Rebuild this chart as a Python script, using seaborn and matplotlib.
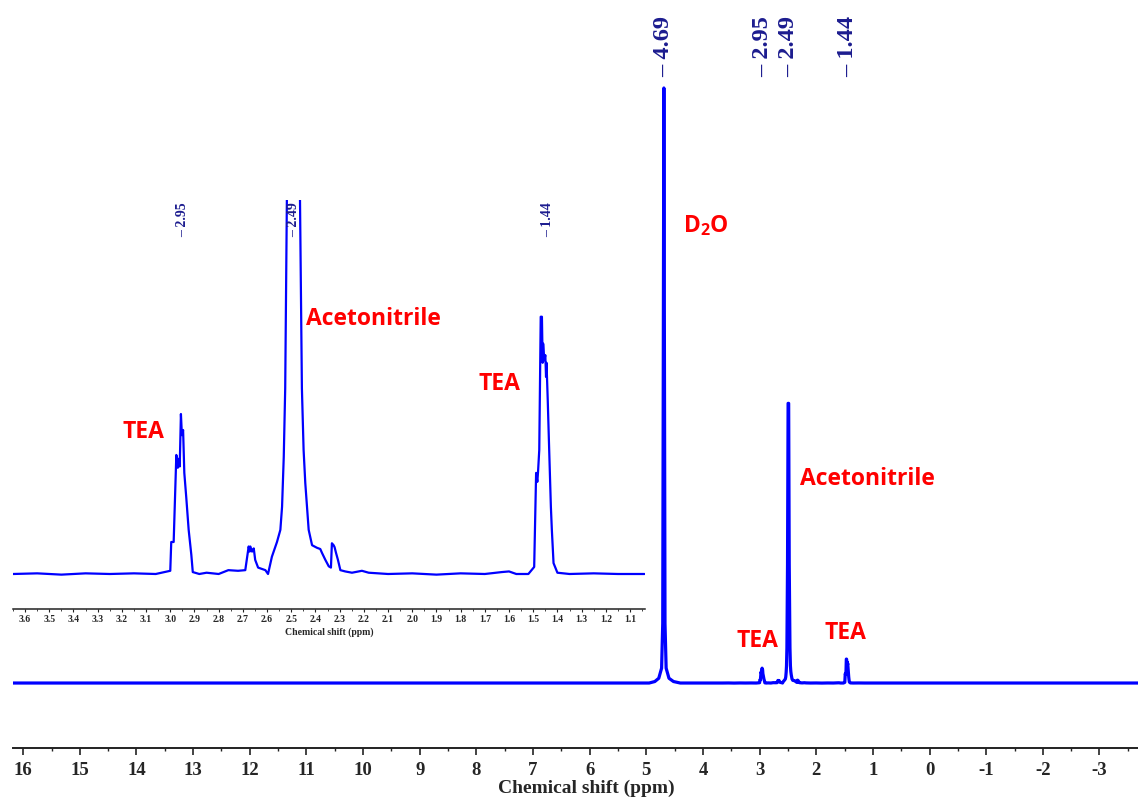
import numpy as np
import pandas as pd
import matplotlib
matplotlib.use("Agg")
import matplotlib.pyplot as plt
import seaborn as sns
from matplotlib.ticker import MultipleLocator, FormatStrFormatter

# ---------------------------------------------------------------------------
# 1H NMR spectrum (D2O), intensity normalised to the D2O signal = 100
# ---------------------------------------------------------------------------
# downfield part of the trace (solvent signal)
downfield_ppm = [16.18, 5.00, 4.95, 4.85, 4.78, 4.73, 4.71, 4.69, 4.67, 4.65,
                 4.60, 4.52, 4.40, 3.65]
downfield_int = [0.0, 0.0, 0.0, 0.25, 0.8, 2.5, 10.0, 100.0, 10.0, 2.5,
                 0.8, 0.25, 0.0, 0.0]

# expanded region 3.65 - 1.04 ppm (TEA CH2, acetonitrile, TEA CH3)
detail_ppm = [3.650, 3.550, 3.450, 3.350, 3.250, 3.150, 3.060, 3.000, 2.996,
              2.986, 2.975, 2.969, 2.965, 2.961, 2.956, 2.952, 2.947, 2.942,
              2.934, 2.924, 2.913, 2.907, 2.880, 2.850, 2.800, 2.760, 2.720,
              2.690, 2.676, 2.672, 2.669, 2.662, 2.655, 2.649, 2.637, 2.607,
              2.596, 2.580, 2.559, 2.545, 2.538, 2.531, 2.525, 2.518, 2.507,
              2.497, 2.487, 2.477, 2.464, 2.456, 2.449, 2.442, 2.428, 2.414,
              2.394, 2.380, 2.373, 2.359, 2.345, 2.336, 2.332, 2.325, 2.321,
              2.315, 2.307, 2.297, 2.277, 2.249, 2.208, 2.180, 2.100, 2.000,
              1.900, 1.800, 1.700, 1.630, 1.600, 1.570, 1.520, 1.496, 1.488,
              1.483, 1.480, 1.475, 1.469, 1.464, 1.461, 1.459, 1.454, 1.450,
              1.447, 1.445, 1.440, 1.434, 1.427, 1.423, 1.416, 1.400, 1.350,
              1.250, 1.150, 1.040]
detail_int = [0.00, 0.01, -0.01, 0.01, 0.00, 0.01, 0.00, 0.05, 0.50,
              0.50, 1.86, 1.66, 1.80, 1.68, 2.50, 2.17, 2.25, 1.58,
              1.20, 0.69, 0.30, 0.03, 0.00, 0.02, 0.00, 0.06, 0.05,
              0.06, 0.43, 0.35, 0.43, 0.35, 0.40, 0.22, 0.10, 0.06,
              0.00, 0.27, 0.50, 0.69, 1.05, 1.83, 2.90, 5.90, 20.0,
              47.0, 47.0, 20.0, 5.90, 2.90, 1.94, 1.42, 0.69, 0.45,
              0.41, 0.39, 0.33, 0.22, 0.12, 0.10, 0.48, 0.45, 0.42,
              0.33, 0.22, 0.06, 0.04, 0.02, 0.05, 0.02, 0.00, 0.01,
              -0.01, 0.01, 0.00, 0.03, 0.04, 0.00, 0.00, 0.11, 1.58,
              1.44, 1.60, 1.94, 4.02, 4.02, 3.30, 3.60, 3.34, 3.42,
              3.08, 3.30, 2.72, 1.94, 1.05, 0.69, 0.17, 0.02, 0.00,
              0.01, 0.00, 0.00]

# upfield part of the trace
upfield_ppm = [1.04, -3.68]
upfield_int = [0.0, 0.0]

# picked peaks
main_peaks = [4.69, 2.95, 2.49, 1.44]
inset_peaks = [2.95, 2.49, 1.44]

main_ticks = list(range(16, -4, -1))

full = pd.DataFrame({
    "ppm": downfield_ppm + detail_ppm + upfield_ppm,
    "intensity": downfield_int + detail_int + upfield_int,
})
zoom = pd.DataFrame({"ppm": detail_ppm, "intensity": detail_int})

# ---------------------------------------------------------------------------
sns.set_theme(style="white")
plt.rcParams["font.family"] = ["Liberation Serif", "DejaVu Serif"]
plt.rcParams["axes.unicode_minus"] = False
plt.rcParams["mathtext.fontset"] = "custom"
plt.rcParams["mathtext.rm"] = "Open Sans:bold"
plt.rcParams["mathtext.it"] = "Open Sans:bold"
plt.rcParams["mathtext.bf"] = "Open Sans:bold"

W, H = 1138, 799
fig = plt.figure(figsize=(W / 100, H / 100), dpi=100)

SPEC = "#0000ff"
NAVY = "#1c1c8f"
RED = "#ff0000"
AXC = "#222222"


def px_axes(x0, y0, x1, y1):
    """Axes rectangle from pixel corners (top-left origin)."""
    return fig.add_axes([x0 / W, 1 - y1 / H, (x1 - x0) / W, (y1 - y0) / H])


def style_axis(ax, lw):
    for side in ("top", "right", "left"):
        ax.spines[side].set_visible(False)
    ax.spines["bottom"].set_color(AXC)
    ax.spines["bottom"].set_linewidth(lw)
    ax.set_yticks([])
    ax.set_ylabel("")
    ax.patch.set_alpha(0)


# ---------------- main spectrum ----------------
ax = px_axes(13, 0, 1138, 748)
sns.lineplot(data=full, x="ppm", y="intensity", sort=False, estimator=None,
             color=SPEC, linewidth=2.3, ax=ax)
ax.set_xlim(16.18, -3.68)
ax.set_ylim(-10.92, 114.79)
style_axis(ax, 1.4)
ax.xaxis.set_major_locator(MultipleLocator(1))
ax.xaxis.set_minor_locator(MultipleLocator(0.5))
ax.set_xticks(main_ticks)
ax.set_xticklabels([str(t) for t in main_ticks])
ax.tick_params(axis="x", which="major", direction="out", length=5, width=1.2,
               color=AXC, pad=5, labelsize=13.5, bottom=True)
ax.tick_params(axis="x", which="minor", direction="out", length=2.5, width=1.0,
               color=AXC, bottom=True)
for lab in ax.get_xticklabels():
    lab.set_fontweight("bold")
ax.set_xlabel("Chemical shift (ppm)", fontsize=14, fontweight="bold")
ax.xaxis.set_label_coords(0.51, -0.043)

for p in main_peaks:
    ax.text(p, 0.897, "\u2013 " + f"{p:.2f}", transform=ax.get_xaxis_transform(),
            rotation=90, ha="center", va="bottom", color=NAVY,
            fontsize=17.5, fontweight="bold", clip_on=False)

lab_kw = dict(color=RED, fontsize=16.5, fontweight="bold", family="Open Sans")
ax.text(4.358, 76.8, "D$_2$O", ha="left", va="center", **lab_kw)
ax.text(1.094, 34.3, "Acetonitrile", ha="center", va="center", **lab_kw)
ax.text(3.035, 7.1, "TEA", ha="center", va="center", **lab_kw)
ax.text(1.482, 8.4, "TEA", ha="center", va="center", **lab_kw)

# ---------------- expanded region ----------------
ins = px_axes(13, 200, 645, 609)
sns.lineplot(data=zoom, x="ppm", y="intensity", sort=False, estimator=None,
             color=SPEC, linewidth=1.6, ax=ins)
ins.set_xlim(3.65, 1.038)
ins.set_ylim(-0.547, 5.844)
style_axis(ins, 1.1)
ins.xaxis.set_major_locator(MultipleLocator(0.1))
ins.xaxis.set_minor_locator(MultipleLocator(0.05))
ins.xaxis.set_major_formatter(FormatStrFormatter("%.1f"))
ins.tick_params(axis="x", which="major", direction="out", length=2.5, width=0.8,
                color=AXC, pad=2, labelsize=7, bottom=True)
ins.tick_params(axis="x", which="minor", direction="out", length=1.5, width=0.6,
                color=AXC, bottom=True)
for lab in ins.get_xticklabels():
    lab.set_fontweight("bold")
ins.set_xlabel("Chemical shift (ppm)", fontsize=7, fontweight="bold", labelpad=2)

for p in inset_peaks:
    ins.text(p, 0.9095, "\u2013 " + f"{p:.2f}", transform=ins.get_xaxis_transform(),
             rotation=90, ha="center", va="bottom", color=NAVY,
             fontsize=10, fontweight="bold", clip_on=False)

ins.text(3.112, 2.22, "TEA", ha="center", va="center", **lab_kw)
ins.text(2.162, 3.98, "Acetonitrile", ha="center", va="center", **lab_kw)
ins.text(1.641, 2.97, "TEA", ha="center", va="center", **lab_kw)

fig.savefig("out.png", dpi=100)
